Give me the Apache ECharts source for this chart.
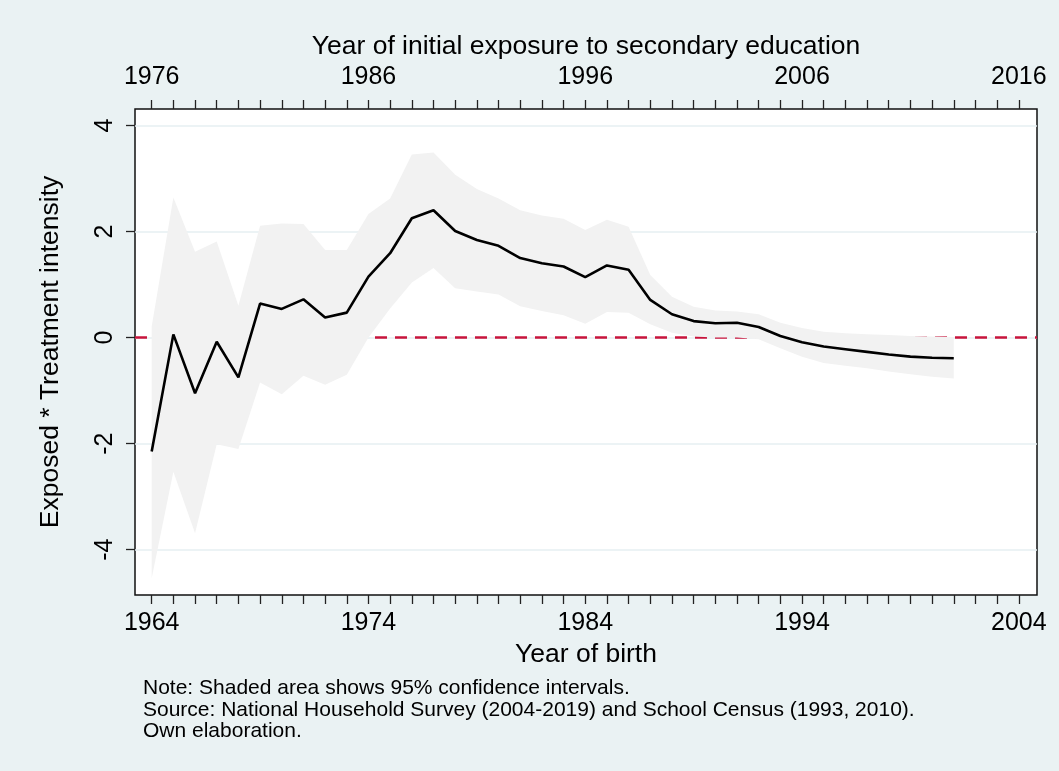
<!DOCTYPE html>
<html>
<head>
<meta charset="utf-8">
<script src="https://cdn.jsdelivr.net/npm/echarts@6/dist/echarts.min.js"></script>
<style>
  html, body { margin: 0; padding: 0; background: #ffffff; }
  #chart { width: 1059px; height: 771px; }
</style>
</head>
<body>
<div id="chart"></div>
<script>
// Year of birth for each estimated cohort
const birthYears = [1964, 1965, 1966, 1967, 1968, 1969, 1970, 1971, 1972, 1973,
  1974, 1975, 1976, 1977, 1978, 1979, 1980, 1981, 1982, 1983,
  1984, 1985, 1986, 1987, 1988, 1989, 1990, 1991, 1992, 1993,
  1994, 1995, 1996, 1997, 1998, 1999, 2000, 2001];

// Point estimates of Exposed * Treatment intensity
const coef = [-2.15, 0.06, -1.05, -0.08, -0.75, 0.64, 0.54, 0.72, 0.38, 0.47,
  1.15, 1.59, 2.25, 2.40, 2.01, 1.84, 1.73, 1.50, 1.40, 1.34,
  1.14, 1.36, 1.28, 0.71, 0.44, 0.31, 0.27, 0.28, 0.20, 0.03,
  -0.09, -0.17, -0.22, -0.27, -0.32, -0.36, -0.38, -0.39];

// 95% confidence bounds
const ciUpper = [0.21, 2.64, 1.62, 1.81, 0.60, 2.11, 2.15, 2.14, 1.65, 1.65,
  2.33, 2.62, 3.45, 3.49, 3.07, 2.80, 2.62, 2.40, 2.30, 2.24,
  2.03, 2.22, 2.09, 1.18, 0.77, 0.58, 0.51, 0.49, 0.44, 0.28,
  0.18, 0.11, 0.08, 0.06, 0.05, 0.03, 0.02, 0.01];

const ciLower = [-4.54, -2.53, -3.69, -2.01, -2.10, -0.85, -1.07, -0.72, -0.89, -0.70,
  0.00, 0.55, 1.04, 1.31, 0.93, 0.87, 0.81, 0.59, 0.50, 0.42,
  0.26, 0.48, 0.47, 0.25, 0.09, 0.02, 0.00, 0.00, -0.03, -0.20,
  -0.36, -0.48, -0.53, -0.58, -0.64, -0.69, -0.74, -0.77];

// Axis ticks and labels
const birthTicks = [];
for (let y = 1964; y <= 2004; y++) birthTicks.push(y);
const birthLabels = [1964, 1974, 1984, 1994, 2004];
const exposureTicks = [];
for (let y = 1976; y <= 2016; y++) exposureTicks.push(y);
const exposureLabels = [1976, 1986, 1996, 2006, 2016];
const yTicks = [-4, -2, 0, 2, 4];

// Exposure to secondary school starts 12 years after birth
const exposureOffset = 12;
const xMin = 1963.23, xMax = 2004.84;
const yMin = -4.855, yMax = 4.31;

const FONT = "'Liberation Sans', Arial, sans-serif";

const coefData = birthYears.map((y, i) => [y, coef[i]]);
const bandData = birthYears.map((y, i) => [y, ciLower[i], ciUpper[i]]);

// Confidence band: one polygon through the upper bounds and back along the lower bounds
function renderBand(params, api) {
  if (params.dataIndex !== 0) return null;
  const upperPts = bandData.map(d => api.coord([d[0], d[2]]));
  const lowerPts = bandData.map(d => api.coord([d[0], d[1]])).reverse();
  return {
    type: 'polygon',
    shape: { points: upperPts.concat(lowerPts) },
    style: { fill: '#F2F2F2', stroke: null }
  };
}

const axisTickStyle = { color: '#222', width: 1.3 };

const chart = echarts.init(document.getElementById('chart'), null, { renderer: 'canvas' });

chart.setOption({
  animation: false,
  backgroundColor: '#EAF2F3',
  grid: {
    left: 135, right: 22, top: 109, bottom: 176,
    show: true,
    backgroundColor: '#ffffff',
    borderColor: '#111111',
    borderWidth: 1.5
  },
  xAxis: [
    {
      type: 'value',
      position: 'bottom',
      min: xMin, max: xMax,
      name: 'Year of birth',
      nameLocation: 'middle',
      nameGap: 45,
      nameTextStyle: { fontFamily: FONT, fontSize: 26.5, color: '#000' },
      axisLine: { show: false, onZero: false },
      axisTick: { show: true, length: 9, customValues: birthTicks, lineStyle: axisTickStyle },
      axisLabel: { customValues: birthLabels, margin: 16, fontFamily: FONT, fontSize: 25, color: '#000',
        formatter: v => String(v) },
      splitLine: { show: false }
    },
    {
      type: 'value',
      position: 'top',
      min: xMin + exposureOffset, max: xMax + exposureOffset,
      name: 'Year of initial exposure to secondary education',
      nameLocation: 'middle',
      nameGap: 48,
      nameTextStyle: { fontFamily: FONT, fontSize: 26.5, color: '#000' },
      axisLine: { show: false, onZero: false },
      axisTick: { show: true, length: 9, customValues: exposureTicks, lineStyle: axisTickStyle },
      axisLabel: { customValues: exposureLabels, margin: 19, fontFamily: FONT, fontSize: 25, color: '#000',
        formatter: v => String(v) },
      splitLine: { show: false }
    }
  ],
  yAxis: {
    type: 'value',
    min: yMin, max: yMax,
    name: 'Exposed * Treatment intensity',
    nameLocation: 'middle',
    nameGap: 71,
    nameTextStyle: { fontFamily: FONT, fontSize: 26.5, color: '#000' },
    axisLine: { show: false, onZero: false },
    axisTick: { show: true, length: 9, customValues: yTicks, lineStyle: axisTickStyle },
    axisLabel: { customValues: yTicks, rotate: 90, margin: 17, fontFamily: FONT, fontSize: 25, color: '#000' },
    splitLine: { show: true, lineStyle: { color: '#E6EFF2', width: 1.5 } }
  },
  series: [
    {
      // zero reference line, kept beneath the confidence band
      type: 'line',
      data: [],
      z: 1,
      silent: true,
      markLine: {
        z: 1,
        silent: true,
        symbol: 'none',
        label: { show: false },
        lineStyle: { color: '#C8143C', width: 2.5, type: [12, 8] },
        data: [{ yAxis: 0 }]
      }
    },
    {
      type: 'custom',
      data: bandData,
      renderItem: renderBand,
      z: 2,
      silent: true,
      clip: true
    },
    {
      type: 'line',
      data: coefData,
      symbol: 'none',
      lineStyle: { color: '#000000', width: 2.6 },
      z: 3
    }
  ],
  graphic: [
    {
      type: 'group',
      left: 143,
      top: 678,
      children: [
        { type: 'text', x: 0, y: 0, style: { text: 'Note: Shaded area shows 95% confidence intervals.', font: '21px ' + FONT, fill: '#000' } },
        { type: 'text', x: 0, y: 21.5, style: { text: 'Source: National Household Survey (2004-2019) and School Census (1993, 2010).', font: '21px ' + FONT, fill: '#000' } },
        { type: 'text', x: 0, y: 43, style: { text: 'Own elaboration.', font: '21px ' + FONT, fill: '#000' } }
      ]
    }
  ]
});
</script>
</body>
</html>
